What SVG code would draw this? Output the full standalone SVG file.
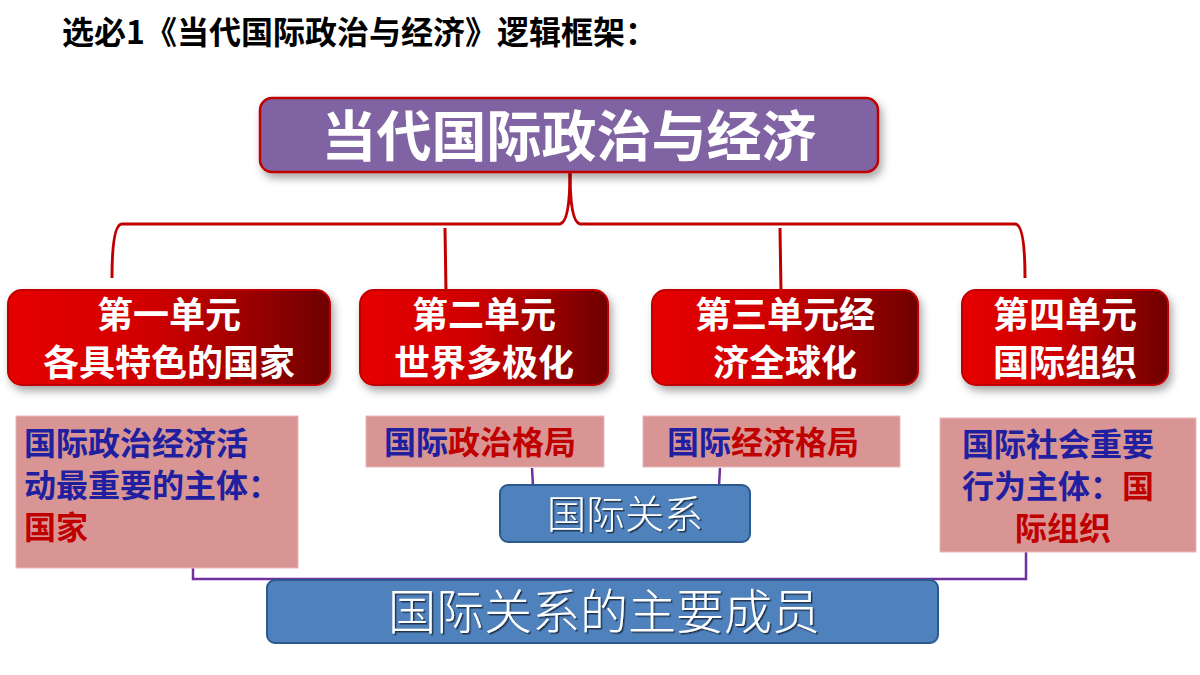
<svg xmlns="http://www.w3.org/2000/svg" width="1200" height="675" viewBox="0 0 1200 675">
<defs>
<linearGradient id="rg" x1="0" y1="0" x2="1" y2="0"><stop offset="0" stop-color="#e60000"/><stop offset="0.45" stop-color="#d00000"/><stop offset="1" stop-color="#6e0000"/></linearGradient>
<filter id="sh" x="-10%" y="-10%" width="130%" height="140%"><feDropShadow dx="3" dy="5" stdDeviation="4" flood-color="#000" flood-opacity="0.35"/></filter>
<filter id="ts"><feDropShadow dx="1.5" dy="1.5" stdDeviation="0.5" flood-color="#000" flood-opacity="0.6"/></filter>
</defs>
<style>
text{font-family:"Noto Sans CJK SC","Noto Sans",sans-serif}
.unit{fill:url(#rg);stroke:#c00000;stroke-width:2;filter:url(#sh)}
.ut{fill:#fff;font-size:36px;font-weight:bold;text-anchor:middle}
.pk{fill:#d99594;stroke:#e8b8b8;stroke-width:1}
.bt{font-size:32px;font-weight:bold;fill:#1f1fa0}
.r{fill:#c00000}
.blue{fill:#4f81bd;stroke:#2c5a8f;stroke-width:2}
.wt{fill:#fff;font-weight:300;text-anchor:middle;filter:url(#ts)}
.rl{fill:none;stroke:#c00000;stroke-width:3}
.pl{fill:none;stroke:#7030a0;stroke-width:2.5}
</style>
<text x="62" y="44" font-size="32" font-weight="bold" fill="#000">选必1《当代国际政治与经济》逻辑框架：</text>
<g id="connectors">
<path class="rl" d="M570,172 Q570,222 560,224 L122,224 Q112,224 112,278"/>
<path class="rl" d="M570,172 Q570,222 580,224 L1015,224 Q1025,224 1025,278"/>
<path class="rl" d="M445,228 L446,292"/>
<path class="rl" d="M780,228 L781,292"/>
<path class="pl" d="M532,468 L533,486"/>
<path class="pl" d="M720,468 L719,486"/>
<path class="pl" d="M193,547 L193,579 L1026,579 L1026,547"/>
</g>
<g id="main"><rect x="260" y="98" width="618" height="74" rx="12" fill="#8064a2" stroke="#c00000" stroke-width="2.5" filter="url(#sh)"/>
<text x="569" y="156" font-size="55" font-weight="bold" fill="#fff" text-anchor="middle">当代国际政治与经济</text></g>
<g id="u1"><rect class="unit" x="8" y="290" width="322" height="95" rx="14"/><text class="ut" x="169" y="328">第一单元</text><text class="ut" x="169" y="376">各具特色的国家</text></g>
<g id="u2"><rect class="unit" x="360" y="290" width="248" height="95" rx="14"/><text class="ut" x="484" y="328">第二单元</text><text class="ut" x="484" y="376">世界多极化</text></g>
<g id="u3"><rect class="unit" x="652" y="290" width="266" height="95" rx="14"/><text class="ut" x="785" y="328">第三单元经</text><text class="ut" x="785" y="376">济全球化</text></g>
<g id="u4"><rect class="unit" x="962" y="290" width="206" height="95" rx="14"/><text class="ut" x="1065" y="328">第四单元</text><text class="ut" x="1065" y="376">国际组织</text></g>
<g id="p1"><rect class="pk" x="16" y="416" width="282" height="152"/><text class="bt" x="24" y="455">国际政治经济活</text><text class="bt" x="24" y="497">动最重要的主体：</text><text class="bt r" x="24" y="539">国家</text></g>
<g id="p2"><rect class="pk" x="366" y="416" width="238" height="51"/><text class="bt" x="384" y="454">国际<tspan class="r">政治格局</tspan></text></g>
<g id="p3"><rect class="pk" x="643" y="416" width="257" height="51"/><text class="bt" x="667" y="454">国际<tspan class="r">经济格局</tspan></text></g>
<g id="p4"><rect class="pk" x="940" y="418" width="256" height="134"/><text class="bt" x="962" y="456">国际社会重要</text><text class="bt" x="962" y="498">行为主体：<tspan class="r">国</tspan></text><text class="bt r" x="1015" y="540">际组织</text></g>
<g id="b1"><rect class="blue" x="500" y="485" width="250" height="57" rx="8"/><text class="wt" x="625" y="528" font-size="39">国际关系</text></g>
<g id="b2"><rect class="blue" x="267" y="580" width="671" height="63" rx="8"/><text class="wt" x="604" y="629" font-size="48">国际关系的主要成员</text></g>
</svg>
